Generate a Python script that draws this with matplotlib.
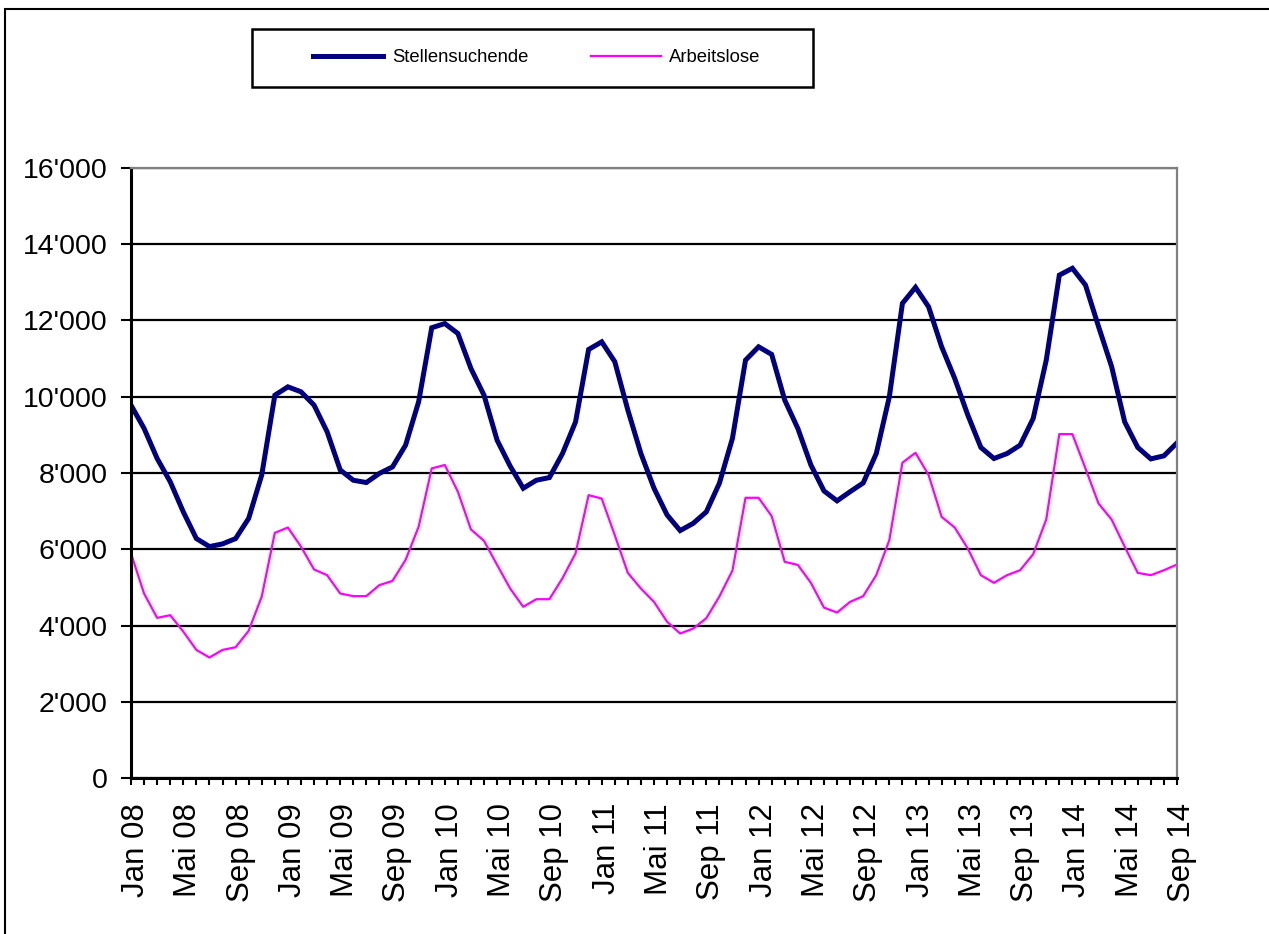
import numpy as np
import matplotlib.pyplot as plt
import matplotlib.transforms as mtransforms
from matplotlib.patches import Rectangle
from matplotlib.ticker import FuncFormatter

plt.rcParams['font.family'] = ['Liberation Sans', 'DejaVu Sans']

# monthly values, Jan 08 .. Sep 14
stellensuchende = [
    9780, 9170, 8380, 7770, 6980, 6280, 6070, 6140, 6280, 6810, 7950, 10040,
    10260, 10130, 9780, 9080, 8080, 7810, 7750, 7990, 8160, 8730, 9870, 11810,
    11920, 11660, 10740, 10040, 8860, 8180, 7600, 7810, 7880, 8510, 9340, 11240,
    11440, 10920, 9650, 8510, 7600, 6900, 6490, 6680, 6980, 7730, 8910, 10960,
    11310, 11110, 9910, 9170, 8210, 7530, 7270, 7510, 7740, 8510, 10000, 12450,
    12870, 12360, 11310, 10480, 9520, 8670, 8380, 8510, 8730, 9430, 10960, 13190,
    13370, 12930, 11840, 10790, 9340, 8670, 8370, 8450, 8790,
]
arbeitslose = [
    5890, 4840, 4200, 4270, 3840, 3360, 3160, 3360, 3430, 3860, 4760, 6430,
    6570, 6070, 5470, 5320, 4840, 4770, 4770, 5060, 5170, 5720, 6590, 8120,
    8210, 7510, 6520, 6220, 5590, 4970, 4490, 4690, 4690, 5240, 5890, 7420,
    7330, 6370, 5380, 4970, 4620, 4100, 3790, 3920, 4190, 4760, 5440, 7350,
    7350, 6870, 5670, 5590, 5120, 4470, 4340, 4620, 4770, 5320, 6240, 8270,
    8530, 7950, 6850, 6570, 6020, 5320, 5120, 5320, 5450, 5870, 6780, 9020,
    9020, 8120, 7200, 6780, 6070, 5380, 5320, 5450, 5600,
]
month_names = ['Jan', 'Feb', 'Mrz', 'Apr', 'Mai', 'Jun', 'Jul', 'Aug', 'Sep', 'Okt', 'Nov', 'Dez']
months = [f'{month_names[i % 12]} {8 + i // 12:02d}' for i in range(len(stellensuchende))]
x = np.arange(len(months))

fig = plt.figure(figsize=(12.69, 9.34), dpi=100)
ax = fig.add_axes([131 / 1269, 1 - 778 / 934, (1177 - 131) / 1269, (778 - 168) / 934])

ax.plot(x, stellensuchende, color='#000080', lw=3.6, label='Stellensuchende', solid_joinstyle='miter')
ax.plot(x, arbeitslose, color='#FF00FF', lw=1.6, label='Arbeitslose')

ax.set_xlim(0, len(months) - 1)
ax.set_ylim(0, 16000)
ax.set_yticks(np.arange(0, 16001, 2000))
ax.yaxis.set_major_formatter(FuncFormatter(lambda v, p: f'{int(v):,}'.replace(',', "'")))
ax.yaxis.grid(True, color='black', lw=1.6)
ax.set_axisbelow(True)

ax.set_xticks(x, minor=True)
ax.set_xticks(x[::4])
ax.set_xticklabels(months[::4], rotation=90, fontsize=22.5)
ax.tick_params(axis='x', which='both', direction='out', length=5, width=1.5, pad=13)
ax.tick_params(axis='y', direction='out', length=7, width=1.5, pad=10, labelsize=20.5)

# shift the rotated month labels slightly to the right, as in the original
shift = mtransforms.ScaledTranslation(5 / 100, 0, fig.dpi_scale_trans)
for lbl in ax.get_xticklabels():
    lbl.set_transform(lbl.get_transform() + shift)

for s in ['left', 'bottom']:
    ax.spines[s].set_color('black')
    ax.spines[s].set_linewidth(2.2)
for s in ['top', 'right']:
    ax.spines[s].set_color('#808080')
    ax.spines[s].set_linewidth(1.6)

# legend box at top
fig.patches.append(Rectangle((252 / 1269, 1 - 87 / 934), 561 / 1269, 58 / 934,
                             transform=fig.transFigure, fill=False, ec='black', lw=1.8))
fig.legend(loc='center', bbox_to_anchor=(537 / 1269, 1 - 58 / 934), ncol=2,
           frameon=False, fontsize=13.3, handlelength=3.8, handletextpad=0.45,
           columnspacing=3.4)

# outer chart border
fig.patches.append(Rectangle((5 / 1269, -0.1), 1.2, 1 - 9 / 934 + 0.1,
                             transform=fig.transFigure, fill=False, ec='black', lw=1.5))

fig.savefig('out.png', dpi=100)
